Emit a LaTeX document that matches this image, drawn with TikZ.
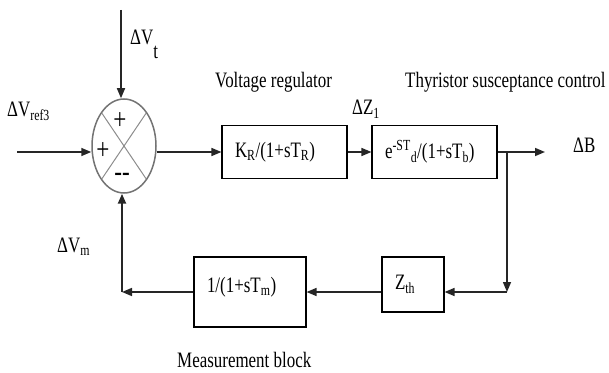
\documentclass[tikz,border=0pt]{standalone}
\usepackage{fontspec}
\setmainfont[FakeStretch=0.77]{Liberation Serif}
\usetikzlibrary{positioning,arrows.meta,calc,shapes.geometric}

\begin{document}
\begin{tikzpicture}[>={Triangle[length=10pt,width=8pt]},x=1pt,y=1pt,
  font=\fontsize{22}{26}\selectfont,
  blk/.style={draw,line width=1.1pt,align=left,inner xsep=13pt,inner ysep=0pt,minimum height=53pt},
  wire/.style={draw=black!85,line width=1.5pt},
  sgn/.style={inner sep=0pt,font=\fontsize{30}{30}\selectfont},
  lbl/.style={anchor=base west,inner sep=0pt}]
  \useasboundingbox (0,0) rectangle (609,372);
  % summing point
  \node[ellipse,draw=black!55,line width=1.5pt,minimum width=64pt,minimum height=94pt,inner sep=0pt] (sum) at (124,226) {};
  \draw[line width=1pt,draw=black!45] ($(sum.center)+(135:31pt and 46pt)$) -- ($(sum.center)+(-45:31pt and 46pt)$);
  \draw[line width=1pt,draw=black!45] ($(sum.center)+(45:31pt and 46pt)$) -- ($(sum.center)+(-135:31pt and 46pt)$);
  \node[sgn] (p1) at (120,251) {+};
  \node[sgn] (p2) at (103,221) {+};
  \node[sgn] (m1) at (122,195) {-{}-};
  % blocks
  \node[blk,text width=99pt] (reg) at (284.5,220) {K\textsubscript{R}/(1+sT\textsubscript{R})};
  \node[blk,text width=99pt] (thy) at (434.5,220) {e\textsuperscript{-ST}\textsubscript{d}/(1+sT\textsubscript{b})};
  \node[blk,text width=36pt,minimum height=55pt] (zth) at (413,87.5) {Z\textsubscript{th}};
  \node[blk,text width=86pt,text height=25pt,text depth=25pt,inner ysep=10pt] (meas) at (250,80) {1/(1+sT\textsubscript{m})};
  % signals
  \coordinate (vt) at (121,362);
  \coordinate (in) at (17,220);
  \coordinate (out) at (545,220);
  \coordinate (br) at (507,220);
  \coordinate (cr) at (507,80);
  \coordinate (cl) at (122,80);
  \draw[wire,->] (vt) -- (vt |- sum.north);
  \draw[wire,->] (in) -- (in -| sum.west);
  \draw[wire,->] (sum.east |- reg.west) -- (reg.west);
  \draw[wire,->] (reg.east) -- (thy.west);
  \draw[wire,->] (thy.east) -- (out);
  \draw[wire,->] (br) -- (cr);
  \draw[wire,->] (cr) -- (cr -| zth.east);
  \draw[wire,->] (zth.west |- meas.east) -- (meas.east);
  \draw[wire,->] (meas.west) -- (cl);
  \draw[wire,line width=2.3pt,->] (cl) -- (cl |- sum.south);
  % labels
  \node[lbl] (lvt) at (130,327) {ΔV\raisebox{-0.6em}{t}};
  \node[lbl] (lref) at (7,255) {ΔV\textsubscript{ref3}};
  \node[lbl] (lz) at (352,257) {ΔZ\textsubscript{1}};
  \node[lbl] (lreg) at (215,284) {Voltage regulator};
  \node[lbl] (lthy) at (405,284) {Thyristor susceptance control};
  \node[lbl] (lb) at (573,219) {ΔB};
  \node[lbl] (lvm) at (57,120) {ΔV\textsubscript{m}};
  \node[lbl] (lmeas) at (177,5) {Measurement block};
\end{tikzpicture}
\end{document}
